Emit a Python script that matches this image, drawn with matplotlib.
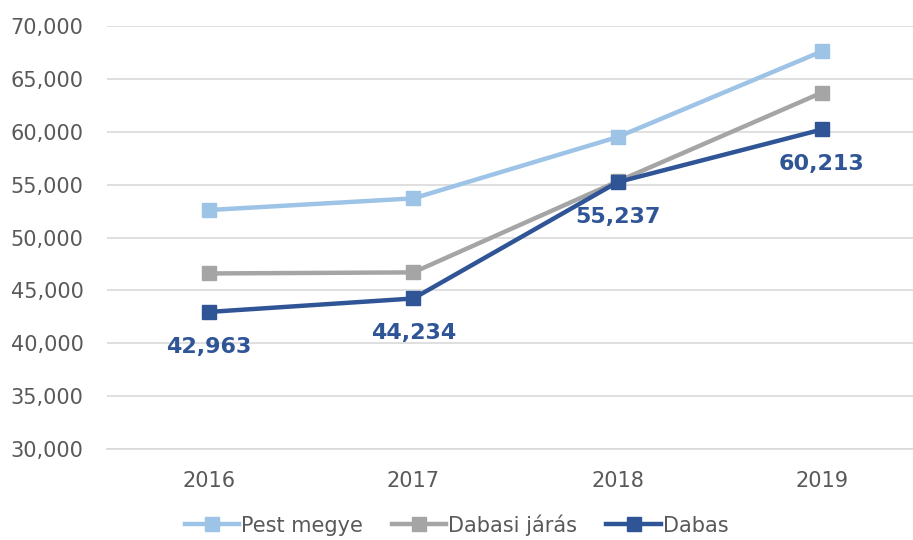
import matplotlib
matplotlib.use("Agg")
import matplotlib.pyplot as plt
from matplotlib.ticker import FuncFormatter

# ---- data -------------------------------------------------------------------
YEARS = ["2016", "2017", "2018", "2019"]
PEST_MEGYE = [52600, 53700, 59500, 67600]
DABASI_JARAS = [46600, 46700, 55300, 63700]
DABAS = [42963, 44234, 55237, 60213]

SERIES = [
    ("Pest megye", PEST_MEGYE, "#9DC3E6"),
    ("Dabasi járás", DABASI_JARAS, "#A5A5A5"),
    ("Dabas", DABAS, "#2F5597"),
]
TEXT, GRID = "#595959", "#D9D9D9"

fig = plt.figure(figsize=(9.13, 5.4), dpi=100)
ax = fig.add_axes([107 / 913, 91 / 540, 817 / 913, 423 / 540])

x = range(len(YEARS))
for name, vals, color in SERIES:
    ax.plot(x, vals, color=color, lw=3.2, marker="s", markersize=10.5,
            label=name, solid_joinstyle="round", zorder=3)

for xi, v in zip(x, DABAS):
    ax.annotate(f"{v:,}", (xi, v), xytext=(0, -25), textcoords="offset points",
                ha="center", va="center", fontsize=16, fontweight="bold",
                color="#2F5597", zorder=4)

ax.set_xlim(-0.5, 3.5)
ax.set_ylim(30000, 70000)
ax.set_yticks(range(30000, 70001, 5000))
ax.yaxis.set_major_formatter(FuncFormatter(lambda v, p: f"{int(v):,}"))
ax.set_xticks(list(x))
ax.set_xticklabels(YEARS)
ax.grid(axis="y", color=GRID, lw=1.2, zorder=0)
for s in ("top", "right", "left"):
    ax.spines[s].set_visible(False)
ax.spines["bottom"].set_color(GRID)
ax.spines["bottom"].set_linewidth(1.2)
ax.tick_params(axis="both", length=0, colors=TEXT, labelsize=15)
ax.tick_params(axis="y", pad=17)
ax.tick_params(axis="x", pad=16)

fig.legend(loc="center", bbox_to_anchor=(0.5, 0.028), ncol=3, frameon=False,
           fontsize=15, labelcolor=TEXT, handlelength=2.6, handletextpad=0.1,
           columnspacing=1.4)

fig.savefig("out.png", dpi=100)
